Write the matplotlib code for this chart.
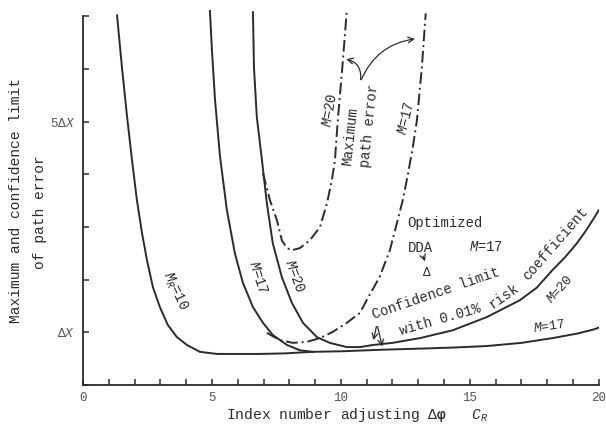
import matplotlib
matplotlib.use("Agg")
import matplotlib.pyplot as plt

# typewriter style text like the scanned figure
plt.rcParams['font.family'] = ['Liberation Mono', 'DejaVu Sans Mono']
plt.rcParams['mathtext.fontset'] = 'custom'
plt.rcParams['mathtext.rm'] = 'Liberation Mono'
plt.rcParams['mathtext.it'] = 'Liberation Mono:italic'
plt.rcParams['mathtext.bf'] = 'Liberation Mono:bold'

ink = '#2b2b2b'

# solid curves (confidence limit)
mr10_x = [1.32, 1.51, 1.71, 1.90, 2.09, 2.29, 2.48, 2.71, 2.98, 3.29, 3.64, 4.03,
          4.53, 5.19, 5.97, 6.86, 7.80, 8.91]
mr10_y = [7.02, 6.03, 5.09, 4.27, 3.51, 2.88, 2.37, 1.86, 1.48, 1.14, 0.91, 0.76,
          0.63, 0.59, 0.59, 0.59, 0.60, 0.63]

m17_x = [4.92, 5.00, 5.12, 5.31, 5.58, 5.89, 6.20, 6.59, 6.98, 7.36, 7.91, 8.41,
         8.91, 10.0, 11.6, 13.0, 14.3, 15.66, 17.0, 18.2, 19.2, 19.84, 20.0]
m17_y = [7.12, 6.36, 5.41, 4.35, 3.32, 2.50, 1.94, 1.48, 1.18, 0.95, 0.76, 0.66,
         0.63, 0.64, 0.67, 0.69, 0.71, 0.74, 0.80, 0.89, 0.98, 1.06, 1.09]

m20_x = [6.59, 6.63, 6.74, 6.94, 7.13, 7.36, 7.71, 8.10, 8.53, 9.07, 9.57, 10.23,
         10.74, 11.24, 12.0, 13.06, 14.34, 15.66, 16.94, 17.6, 18.2, 18.7, 19.15,
         19.5, 19.84, 20.0]
m20_y = [7.08, 6.03, 5.09, 4.27, 3.45, 2.69, 2.05, 1.56, 1.18, 0.91, 0.80, 0.72,
         0.72, 0.76, 0.80, 0.89, 1.04, 1.29, 1.61, 1.85, 2.18, 2.43, 2.69,
         2.93, 3.19, 3.32]

# dash-dot curves (maximum path error)
max20_x = [6.98, 7.25, 7.52, 7.71, 7.91, 8.10, 8.41, 8.80, 9.19, 9.46, 9.65,
           9.77, 9.88, 10.08, 10.23]
max20_y = [4.02, 3.51, 3.13, 2.75, 2.60, 2.56, 2.60, 2.75, 3.00, 3.45, 3.89,
           4.27, 5.03, 6.17, 7.12]

max17_x = [7.13, 7.64, 8.14, 8.68, 9.19, 9.69, 10.23, 10.74, 11.0, 11.5, 11.9,
           12.17, 12.4, 12.6, 12.79, 12.95, 13.14, 13.29]
max17_y = [0.99, 0.85, 0.80, 0.82, 0.89, 1.01, 1.18, 1.37, 1.61, 2.05, 2.56,
           3.07, 3.51, 4.00, 4.52, 5.03, 6.03, 7.06]

# optimized DDA point
dda_x = [13.33]
dda_y = [2.13]

x_ticks = [0, 5, 10, 15, 20]
y_tick_labels = {1: r'Δ$X$', 5: r'5Δ$X$'}

fig = plt.figure(figsize=(6.06, 4.24), dpi=100)
ax = fig.add_axes([0.137, 0.092, 0.851, 0.884])

lw = 1.4
ax.plot(mr10_x, mr10_y, color=ink, lw=lw, solid_joinstyle='round')
ax.plot(m17_x, m17_y, color=ink, lw=lw, solid_joinstyle='round')
ax.plot(m20_x, m20_y, color=ink, lw=lw, solid_joinstyle='round')
ax.plot(max20_x, max20_y, color=ink, lw=lw, linestyle=(0, (6, 2, 1, 2)))
ax.plot(max17_x, max17_y, color=ink, lw=lw, linestyle=(0, (6, 2, 1, 2)))
ax.text(dda_x[0], dda_y[0], 'Δ', color=ink, fontsize=9, ha='center', va='center')

ax.set_xlim(0, 20)
ax.set_ylim(0, 7.12)
for s in ['top', 'right']:
    ax.spines[s].set_visible(False)
ax.spines['left'].set_bounds(0, 7)
for s in ['left', 'bottom']:
    ax.spines[s].set_color(ink)
    ax.spines[s].set_linewidth(1.3)

ax.set_xticks(range(0, 21))
ax.set_xticklabels([str(t) if t in x_ticks else '' for t in range(0, 21)])
ax.set_yticks(range(0, 8))
ax.set_yticklabels([y_tick_labels.get(t, '') for t in range(0, 8)])
ax.tick_params(direction='in', length=4, width=1.1, color=ink,
               labelcolor='#555555', labelsize=9, pad=5)
ax.tick_params(axis='y', pad=6)

# curve labels
fs = 10
ax.text(3.55, 1.78, r'$M_R$=10', rotation=-65, fontsize=fs, color=ink, ha='center', va='center')
ax.text(6.78, 2.05, r'$M$=17', rotation=-72, fontsize=fs, color=ink, ha='center', va='center')
ax.text(8.2, 2.07, r'$M$=20', rotation=-70, fontsize=fs, color=ink, ha='center', va='center')
ax.text(9.6, 5.22, r'$M$=20', rotation=80, fontsize=fs, color=ink, ha='center', va='center')
ax.text(12.55, 5.07, r'$M$=17', rotation=76, fontsize=fs, color=ink, ha='center', va='center')
ax.text(18.5, 1.82, r'$M$=20', rotation=48, fontsize=9.5, color=ink, ha='center', va='center')
ax.text(18.1, 1.12, r'$M$=17', rotation=8, fontsize=9.5, color=ink, ha='center', va='center')

ax.text(10.35, 4.73, 'Maximum', rotation=84, fontsize=fs, color=ink, ha='center', va='center')
ax.text(11.12, 4.92, 'path error', rotation=84, fontsize=fs, color=ink, ha='center', va='center')

# arrows to the maximum path error curves
ax.annotate('', xy=(10.1, 6.2), xytext=(10.75, 5.75),
            arrowprops=dict(arrowstyle='->', color=ink, lw=0.9,
                            connectionstyle='arc3,rad=0.5'))
ax.annotate('', xy=(12.98, 6.58), xytext=(10.75, 5.75),
            arrowprops=dict(arrowstyle='->', color=ink, lw=0.9,
                            connectionstyle='arc3,rad=-0.3'))

# optimized DDA note
ax.text(12.56, 3.07, 'Optimized', fontsize=fs, color=ink, ha='left', va='center')
ax.text(12.6, 2.6, 'DDA', fontsize=fs, color=ink, ha='left', va='center')
ax.text(14.95, 2.62, r'$M$=17', fontsize=fs, color=ink, ha='left', va='center')
ax.annotate('', xy=(13.3, 2.3), xytext=(13.15, 2.5),
            arrowprops=dict(arrowstyle='->', color=ink, lw=0.9))

# confidence limit note
ax.text(13.7, 1.74, 'Confidence limit', rotation=19, fontsize=fs, color=ink, ha='center', va='center')
ax.text(13.84, 1.25, 'with 0.01%', rotation=16, fontsize=fs, color=ink, ha='center', va='center')
ax.text(16.3, 1.68, 'risk', rotation=35, fontsize=fs, color=ink, ha='center', va='center')
ax.text(18.33, 2.68, 'coefficient', rotation=49, fontsize=fs, color=ink, ha='center', va='center')
ax.annotate('', xy=(11.24, 0.80), xytext=(11.4, 1.16),
            arrowprops=dict(arrowstyle='->', color=ink, lw=0.9))
ax.annotate('', xy=(11.63, 0.68), xytext=(11.4, 1.16),
            arrowprops=dict(arrowstyle='->', color=ink, lw=0.9))

# axis titles
fig.text(0.026, 0.528, 'Maximum and confidence limit', rotation=90,
         fontsize=10.5, color=ink, ha='center', va='center')
fig.text(0.066, 0.50, 'of path error', rotation=90,
         fontsize=10.5, color=ink, ha='center', va='center')
fig.text(0.59, 0.022, r'Index number adjusting Δ$\mathbf{\varphi}$   $C_R$',
         fontsize=10.5, color=ink, ha='center', va='center')

plt.savefig('out.png', dpi=100)
